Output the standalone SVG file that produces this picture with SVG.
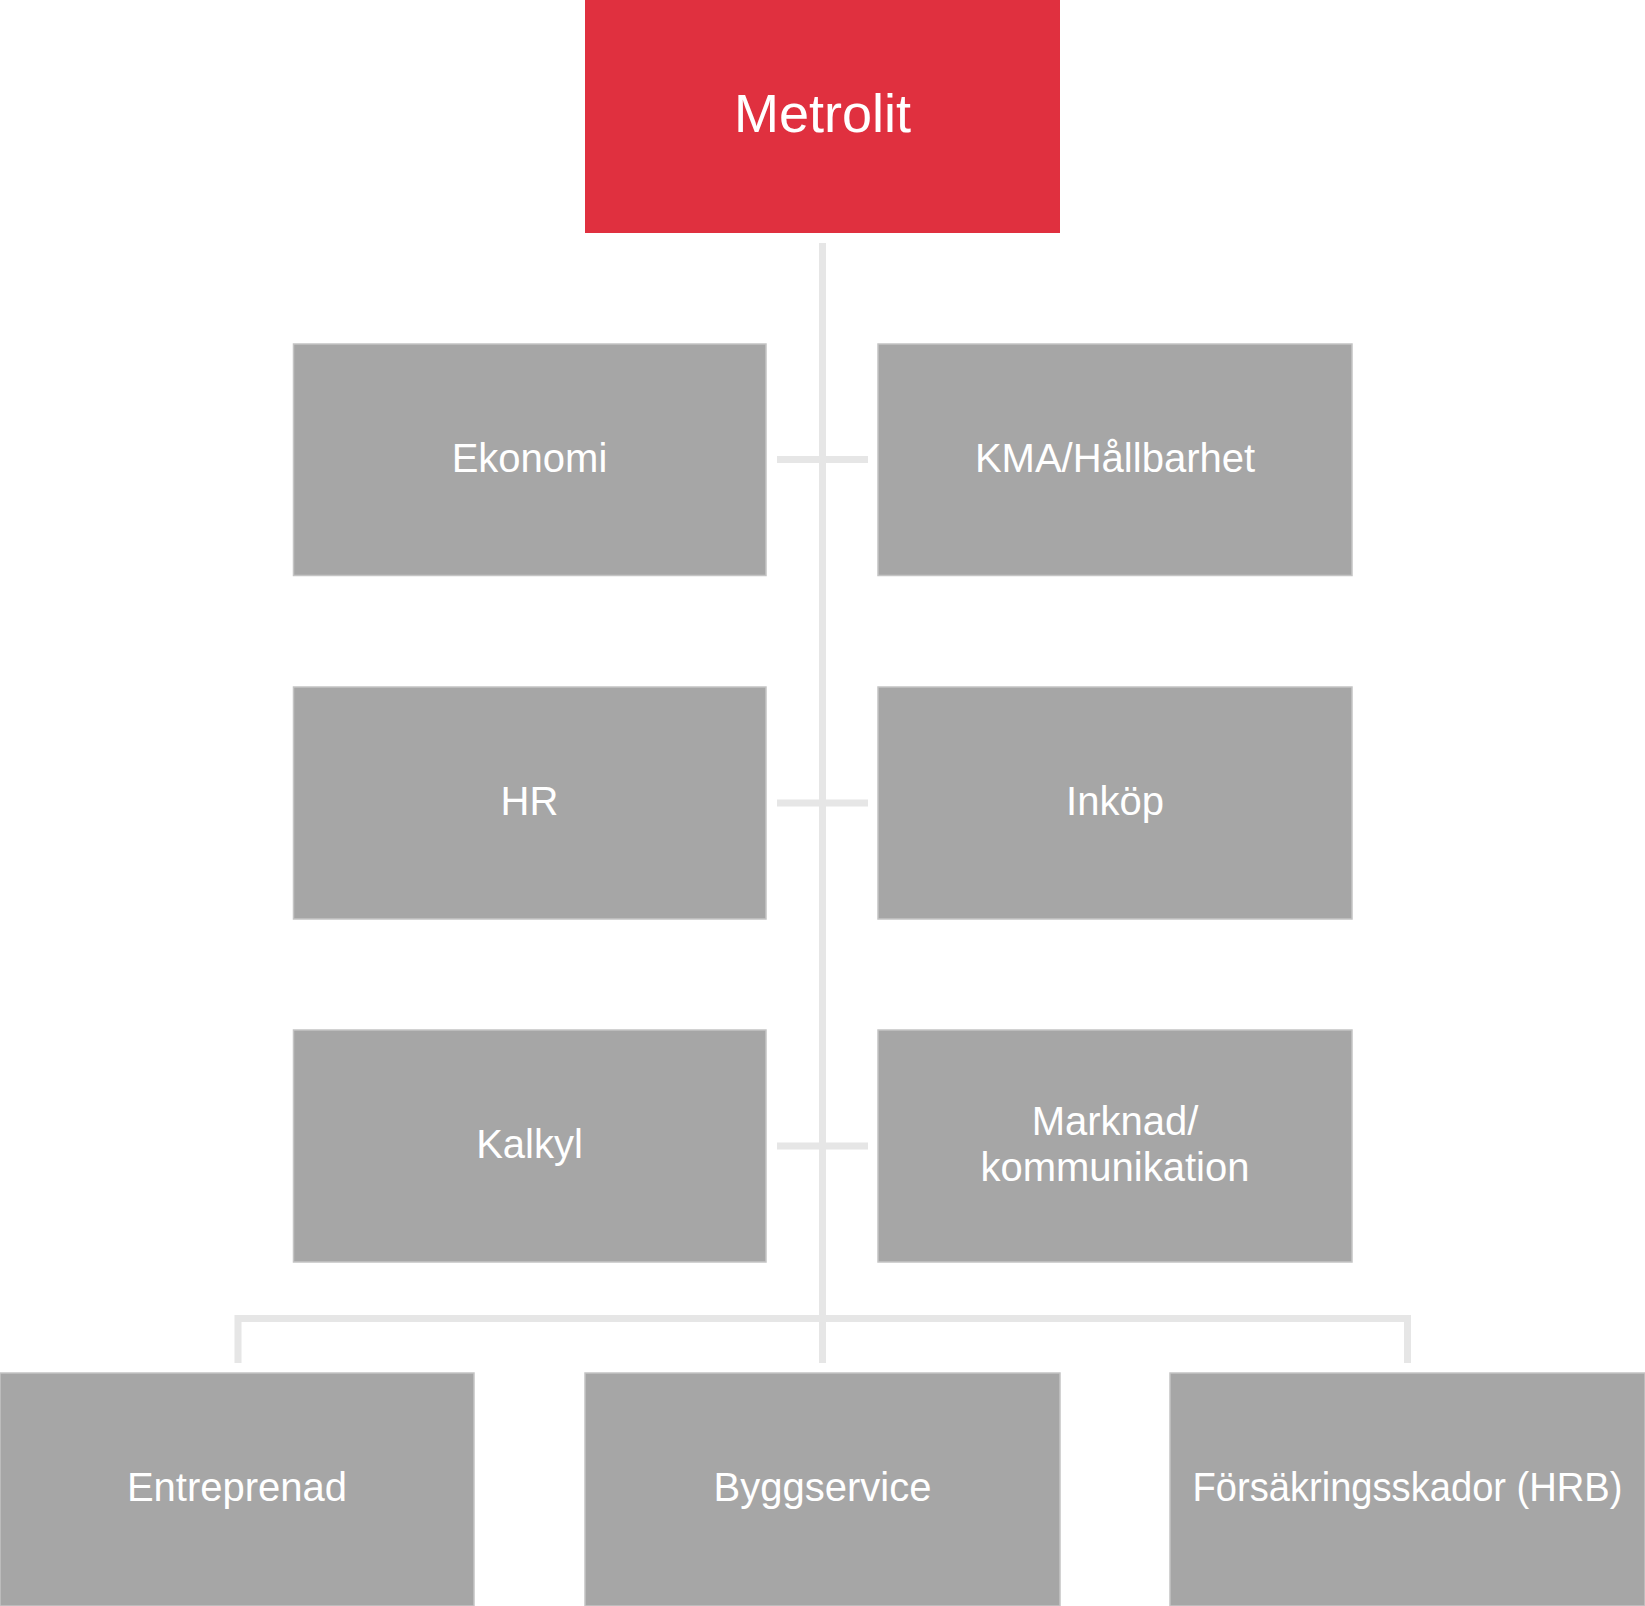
<svg xmlns="http://www.w3.org/2000/svg" width="1645" height="1606" viewBox="0 0 1645 1606">
<style>
.box{fill:#a6a6a6;stroke:#c4c4c4;stroke-width:1.5}
.root{fill:#e0303f}
.lbl{font-family:"Liberation Sans",Arial,"Noto Sans",sans-serif;font-size:40px;fill:#ffffff;text-anchor:middle}
.title{font-family:"Liberation Sans",Arial,"Noto Sans",sans-serif;font-size:54px;fill:#ffffff;text-anchor:middle}
.conn{fill:none;stroke:#e6e6e6;stroke-width:7}
</style>
<rect width="1645" height="1606" fill="#ffffff"/>
<g id="connectors">
<line class="conn" x1="822.5" y1="243" x2="822.5" y2="1363"/>
<line class="conn" x1="777" y1="459.5" x2="868" y2="459.5"/>
<line class="conn" x1="777" y1="803" x2="868" y2="803"/>
<line class="conn" x1="777" y1="1146" x2="868" y2="1146"/>
<path class="conn" d="M238 1363 V1318.5 H1407.5 V1363"/>
</g>
<g id="metrolit">
<rect class="root" x="585" y="0" width="475" height="233"/>
<text class="title" x="822.5" y="131.5">Metrolit</text>
</g>
<g id="ekonomi">
<rect class="box" x="293.5" y="344" width="472.5" height="231.5"/>
<text class="lbl" x="529.5" y="471.5">Ekonomi</text>
</g>
<g id="kma">
<rect class="box" x="878" y="344" width="474" height="231.5"/>
<text class="lbl" x="1115" y="471.5">KMA/Hållbarhet</text>
</g>
<g id="hr">
<rect class="box" x="293.5" y="687" width="472.5" height="232"/>
<text class="lbl" x="529.5" y="815">HR</text>
</g>
<g id="inkop">
<rect class="box" x="878" y="687" width="474" height="232"/>
<text class="lbl" x="1115" y="815">Inköp</text>
</g>
<g id="kalkyl">
<rect class="box" x="293.5" y="1030" width="472.5" height="232"/>
<text class="lbl" x="529.5" y="1158">Kalkyl</text>
</g>
<g id="marknad">
<rect class="box" x="878" y="1030" width="474" height="232"/>
<text class="lbl"><tspan x="1115" y="1134.5">Marknad/</tspan><tspan x="1115" y="1181">kommunikation</tspan></text>
</g>
<g id="entreprenad">
<rect class="box" x="0" y="1373" width="474" height="233"/>
<text class="lbl" x="237" y="1501">Entreprenad</text>
</g>
<g id="byggservice">
<rect class="box" x="585" y="1373" width="475" height="233"/>
<text class="lbl" x="822.5" y="1501">Byggservice</text>
</g>
<g id="forsakring">
<rect class="box" x="1170" y="1373" width="475" height="233"/>
<text class="lbl" x="1407.5" y="1501" textLength="430" lengthAdjust="spacingAndGlyphs">Försäkringsskador (HRB)</text>
</g>
</svg>
